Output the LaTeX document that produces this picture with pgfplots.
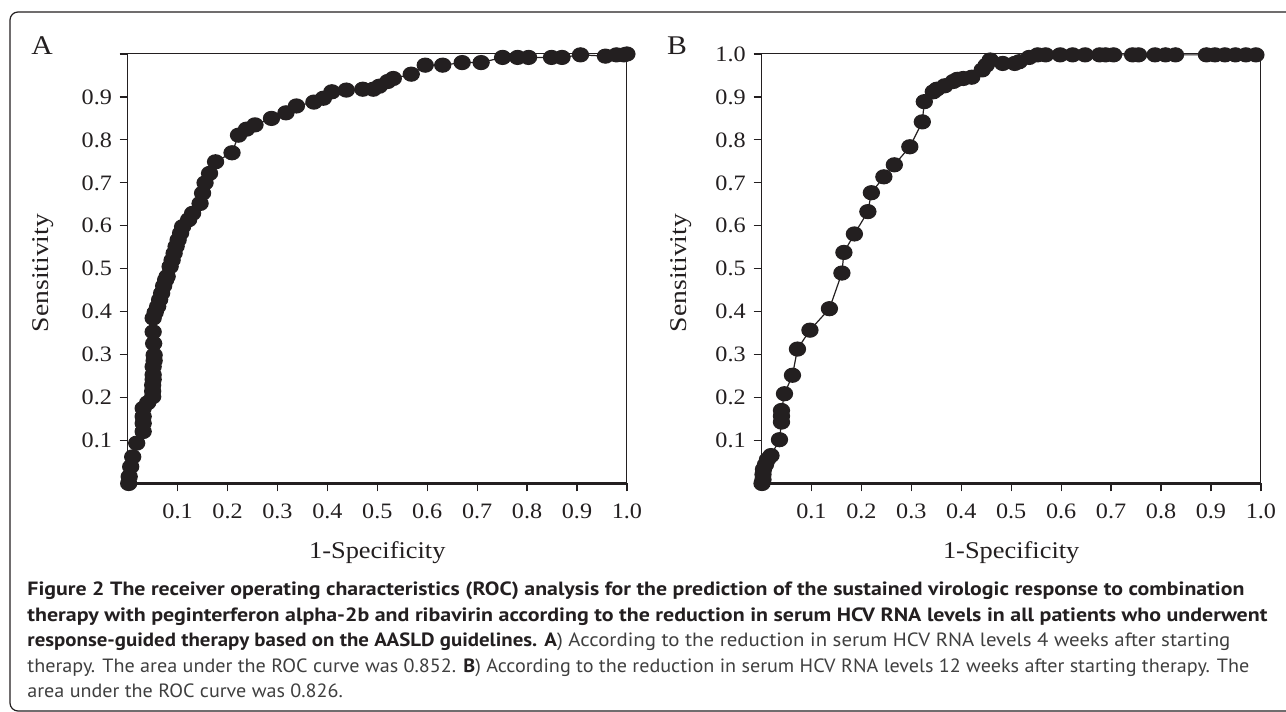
\documentclass[border=0pt]{standalone}
\usepackage{fontspec}
\setmainfont{Liberation Serif}
\newfontfamily\capfont{PT Sans}
\usepackage{pgfplots}
\pgfplotsset{compat=1.18}

\definecolor{ink}{HTML}{231F20}
\definecolor{capgray}{HTML}{3F3F3F}

\newlength\capw
\newcommand\capstyle{\capfont\fontsize{9.6}{11}\selectfont\color{capgray}}
% scale that stretches a caption line to the width it has in the figure
\newcommand\fitscale[3]{\settowidth\capw{\capstyle #3}\pgfmathsetmacro#1{#2/\capw}}

\newcommand\capA{\textcolor{ink}{\bfseries Figure 2 The receiver operating characteristics (ROC) analysis for the prediction of the sustained virologic response to combination}}
\newcommand\capB{\textcolor{ink}{\bfseries therapy with peginterferon alpha-2b and ribavirin according to the reduction in serum HCV RNA levels in all patients who underwent}}
\newcommand\capC{\textcolor{ink}{\bfseries response-guided therapy based on the AASLD guidelines. A}) According to the reduction in serum HCV RNA levels 4 weeks after starting}
\newcommand\capD{therapy. The area under the ROC curve was 0.852. \textcolor{ink}{\bfseries B}) According to the reduction in serum HCV RNA levels 12 weeks after starting therapy. The}
\newcommand\capE{area under the ROC curve was 0.826.}

% common look of both ROC panels
\pgfplotsset{
  roc/.style={
    scale only axis, anchor=south west,
    height=214.75pt,
    xmin=0, xmax=1, ymin=0, ymax=1,
    clip=false,
    axis line style={line width=0.5pt, ink},
    tick align=outside, tick pos=left,
    major tick length=4pt,
    tick style={ink, line width=0.6pt},
    xtick={0.1,0.2,0.3,0.4,0.5,0.6,0.7,0.8,0.9,1},
    xticklabels={0.1,0.2,0.3,0.4,0.5,0.6,0.7,0.8,0.9,1.0},
    ytick={0.1,0.2,0.3,0.4,0.5,0.6,0.7,0.8,0.9,1},
    xticklabel shift=2.6pt,
    xticklabel style={font=\fontsize{11}{13}\selectfont, xscale=1.1, text=ink},
    yticklabel style={font=\fontsize{11}{13}\selectfont, xscale=1.1, text=ink},
    xlabel={1-Specificity}, ylabel={Sensitivity},
    x label style={at={(axis description cs:0.5,-0.1605)}, anchor=center,
      font=\fontsize{12}{14}\selectfont, xscale=1.1, text=ink},
    y label style={anchor=center, font=\fontsize{12}{14}\selectfont, xscale=1.15, text=ink},
  },
  rocline/.style={ink, line width=0.6pt, mark=*, mark size=3.5pt,
    mark options={fill=ink, draw=ink, xscale=1.15}},
}

\begin{document}%
\fitscale\scA{608.5}{\capA}%
\fitscale\scB{620}{\capB}%
\fitscale\scC{601.5}{\capC}%
\fitscale\scD{611}{\capD}%
\fitscale\scE{157.7}{\capE}%
\begin{tikzpicture}
\useasboundingbox (0,0) rectangle (643pt,356pt);
\draw[ink, line width=0.6pt, rounded corners=4pt] (5pt,0.5pt) rectangle (650pt,350pt);

% panel A: 4 weeks
\begin{axis}[roc, at={(63.85pt,114.25pt)}, width=249.6pt,
  yticklabels={0.1,0.2,0.3,0.4,0.5,0.6,0.7,0.8,0.9,{}},
  y label style={at={(axis description cs:-0.1687,0.49)}}]
\draw[ink, line width=1.1pt] (rel axis cs:0,0) -- (rel axis cs:1,0);
\addplot[rocline] table {
x y
0.002 0.000
0.003 0.016
0.006 0.039
0.010 0.062
0.018 0.094
0.031 0.121
0.031 0.140
0.031 0.156
0.031 0.175
0.040 0.188
0.050 0.202
0.050 0.215
0.050 0.229
0.051 0.242
0.051 0.253
0.051 0.272
0.053 0.286
0.053 0.299
0.052 0.326
0.051 0.353
0.051 0.385
0.055 0.398
0.060 0.412
0.064 0.428
0.068 0.443
0.072 0.460
0.076 0.474
0.079 0.482
0.085 0.505
0.089 0.520
0.093 0.536
0.097 0.552
0.101 0.567
0.106 0.583
0.110 0.598
0.122 0.614
0.130 0.629
0.145 0.652
0.150 0.676
0.155 0.700
0.164 0.722
0.176 0.749
0.209 0.770
0.222 0.811
0.238 0.825
0.255 0.835
0.288 0.850
0.317 0.863
0.338 0.879
0.373 0.888
0.392 0.897
0.409 0.912
0.438 0.916
0.471 0.918
0.492 0.918
0.504 0.925
0.521 0.936
0.532 0.943
0.568 0.953
0.596 0.974
0.631 0.974
0.670 0.980
0.708 0.980
0.751 0.992
0.781 0.992
0.803 0.992
0.849 0.992
0.870 0.992
0.907 0.998
0.957 0.995
0.979 0.998
0.994 0.998
1.000 1.000
};
\end{axis}

% panel B: 12 weeks
\begin{axis}[roc, at={(380.75pt,114.25pt)}, width=249.7pt,
  yticklabels={0.1,0.2,0.3,0.4,0.5,0.6,0.7,0.8,0.9,1.0},
  y label style={at={(axis description cs:-0.161,0.49)}}]
\draw[ink, line width=1.1pt] (rel axis cs:0,0) -- (rel axis cs:1,0);
\addplot[rocline] table {
x y
0.001 0.000
0.003 0.009
0.003 0.021
0.004 0.033
0.008 0.044
0.012 0.056
0.019 0.065
0.036 0.102
0.040 0.143
0.040 0.157
0.040 0.170
0.046 0.209
0.062 0.252
0.072 0.313
0.097 0.357
0.136 0.407
0.161 0.490
0.165 0.538
0.186 0.581
0.213 0.633
0.220 0.677
0.245 0.714
0.266 0.742
0.297 0.784
0.322 0.842
0.326 0.889
0.344 0.912
0.351 0.918
0.367 0.926
0.384 0.936
0.392 0.941
0.404 0.943
0.421 0.946
0.442 0.963
0.450 0.974
0.458 0.986
0.483 0.978
0.507 0.978
0.516 0.982
0.536 0.992
0.553 0.998
0.569 0.998
0.598 0.998
0.623 0.998
0.648 0.998
0.677 0.998
0.689 0.998
0.705 0.998
0.743 0.998
0.755 0.998
0.788 0.998
0.809 0.998
0.829 0.998
0.891 0.998
0.908 0.998
0.928 0.998
0.949 0.998
0.970 0.998
0.990 0.998
};
\end{axis}

\node[font=\fontsize{13.5}{15}\selectfont, xscale=1.1, text=ink] at (21pt,333pt) {A};
\node[font=\fontsize{13.5}{15}\selectfont, xscale=1.1, text=ink] at (338.5pt,333pt) {B};

% caption, one node per line, each stretched to the width it has in the figure
\begin{scope}[every node/.style={anchor=base west, inner sep=0pt}]
\node[xscale=\scA] at (13.5pt,58pt) {\capstyle\capA};
\node[xscale=\scB] at (13.5pt,45.25pt) {\capstyle\capB};
\node[xscale=\scC] at (13.5pt,32.5pt) {\capstyle\capC};
\node[xscale=\scD] at (13.5pt,19.75pt) {\capstyle\capD};
\node[xscale=\scE] at (13.5pt,7pt) {\capstyle\capE};
\end{scope}
\end{tikzpicture}
\end{document}
